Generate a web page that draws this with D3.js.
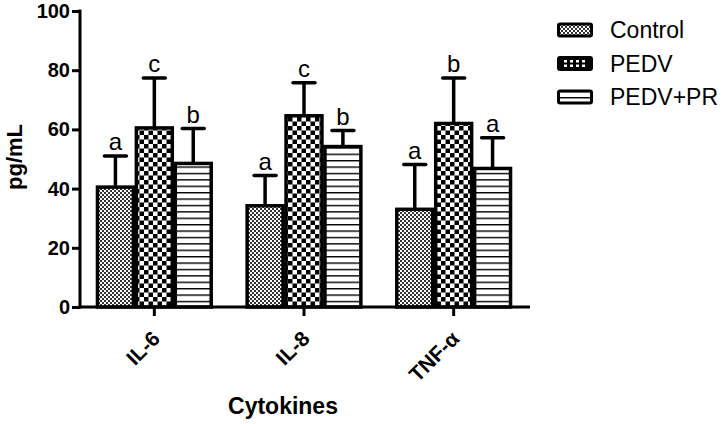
<!DOCTYPE html>
<html>
<head>
<meta charset="utf-8">
<script src="https://cdn.jsdelivr.net/npm/d3@7"></script>
<style>
  body { margin: 0; background: #fff; }
  text { font-family: "Liberation Sans", Arial, sans-serif; }
</style>
</head>
<body>
<div id="main"></div>
<script>
var cytokines = ["IL-6", "IL-8", "TNF-α"];
var groups = ["Control", "PEDV", "PEDV+PR"];
var means = [
  [40.5, 60.5, 48.5],
  [34.2, 64.6, 54.2],
  [33.0, 62.0, 46.8]
];
var errTops = [
  [51.0, 77.4, 60.3],
  [44.4, 75.8, 59.6],
  [48.1, 77.4, 57.2]
];
var letters = [
  ["a", "c", "b"],
  ["a", "c", "b"],
  ["a", "b", "a"]
];
var yTicks = [0, 20, 40, 60, 80, 100];

var ctx = { w: 728, h: 424 };

var svg = d3.select("#main").append("svg")
  .attr("width", ctx.w).attr("height", ctx.h);

var defs = svg.append("defs");
// fine checker (Control)
var p1 = defs.append("pattern").attr("id", "pCtrl")
  .attr("patternUnits", "userSpaceOnUse").attr("width", 4).attr("height", 4);
p1.append("rect").attr("width", 4).attr("height", 4).attr("fill", "#fff");
p1.append("rect").attr("width", 2).attr("height", 2).attr("fill", "#333");
p1.append("rect").attr("x", 2).attr("y", 2).attr("width", 2).attr("height", 2).attr("fill", "#333");
// large checker (PEDV)
var p2 = defs.append("pattern").attr("id", "pPedv")
  .attr("patternUnits", "userSpaceOnUse").attr("width", 9).attr("height", 9);
p2.append("rect").attr("width", 9).attr("height", 9).attr("fill", "#fff");
p2.append("rect").attr("width", 4.5).attr("height", 4.5).attr("fill", "#000");
p2.append("rect").attr("x", 4.5).attr("y", 4.5).attr("width", 4.5).attr("height", 4.5).attr("fill", "#000");
// horizontal lines (PEDV+PR)
var p3 = defs.append("pattern").attr("id", "pPr")
  .attr("patternUnits", "userSpaceOnUse").attr("width", 6).attr("height", 6.4);
p3.append("rect").attr("width", 6).attr("height", 6.4).attr("fill", "#fff");
p3.append("rect").attr("y", 0).attr("width", 6).attr("height", 1.4).attr("fill", "#000");
var fills = ["url(#pCtrl)", "url(#pPedv)", "url(#pPr)"];

var y = d3.scaleLinear().domain([0, 100]).range([307, 11]);
var x0 = d3.scaleBand().domain(cytokines).range([81, 527]).paddingInner(0.22).paddingOuter(0.1);
var x1 = d3.scaleBand().domain(groups).range([0, x0.bandwidth()]);

var g = svg.append("g");

// bars, error bars, letters
cytokines.forEach(function(c, i) {
  groups.forEach(function(s, j) {
    var bx = x0(c) + x1(s);
    var bw = x1.bandwidth();
    var cx = bx + bw / 2;
    g.append("line")
      .attr("x1", cx).attr("x2", cx)
      .attr("y1", y(means[i][j])).attr("y2", y(errTops[i][j]))
      .attr("stroke", "#000").attr("stroke-width", 3.5);
    g.append("line")
      .attr("x1", cx - 11).attr("x2", cx + 11)
      .attr("y1", y(errTops[i][j])).attr("y2", y(errTops[i][j]))
      .attr("stroke", "#000").attr("stroke-width", 3.5).attr("stroke-linecap", "round");
    g.append("rect")
      .attr("x", bx + 1.5).attr("y", y(means[i][j]))
      .attr("width", bw - 3).attr("height", y(0) - y(means[i][j]))
      .attr("fill", fills[j]).attr("stroke", "#000").attr("stroke-width", 3.5);
    g.append("text")
      .attr("x", cx).attr("y", y(errTops[i][j]) - 6)
      .attr("text-anchor", "middle")
      .attr("font-size", 24)
      .text(letters[i][j]);
  });
});

// y axis
var yAxis = svg.append("g").attr("transform", "translate(80,0)")
  .call(d3.axisLeft(y).tickValues(yTicks).tickSize(8).tickPadding(2));
yAxis.select(".domain").attr("stroke-width", 3).attr("d", "M0,9.5V308.5");
yAxis.selectAll(".tick line").attr("stroke-width", 3);
yAxis.selectAll("text").attr("font-size", 20).attr("font-weight", "bold").attr("fill", "#000");

// x axis
var xAxis = svg.append("g").attr("transform", "translate(0,307)")
  .call(d3.axisBottom(x0).tickSize(9).tickSizeOuter(0));
xAxis.select(".domain").attr("stroke-width", 3).attr("d", "M78.5,0H530");
xAxis.selectAll(".tick line").attr("stroke-width", 3);
xAxis.selectAll(".tick text")
  .attr("font-size", 21).attr("font-weight", "bold").attr("fill", "#000")
  .attr("text-anchor", "end").attr("dy", null).attr("y", 0)
  .attr("transform", "translate(7,33) rotate(-45)");

// axis titles
svg.append("text")
  .attr("transform", "translate(22,157) rotate(-90)")
  .attr("text-anchor", "middle")
  .attr("font-size", 22).attr("font-weight", "bold")
  .text("pg/mL");
svg.append("text")
  .attr("x", 283).attr("y", 414)
  .attr("text-anchor", "middle")
  .attr("font-size", 23).attr("font-weight", "bold")
  .text("Cytokines");

// legend
groups.forEach(function(s, j) {
  var ly = 30 + j * 33.5;
  var lg = svg.append("g").attr("transform", "translate(557," + ly + ")");
  lg.append("rect").attr("x", 1.5).attr("y", -6).attr("width", 33).attr("height", 12)
    .attr("fill", j === 1 ? "#000" : fills[j]).attr("stroke", "#000").attr("stroke-width", 3).attr("rx", 1.5);
  if (j === 1) {
    [0, 1, 2, 3].forEach(function(k) {
      lg.append("rect").attr("x", 7 + k * 6).attr("y", -3.5).attr("width", 3).attr("height", 2.5).attr("fill", "#fff");
      lg.append("rect").attr("x", 7 + k * 6).attr("y", 1).attr("width", 3).attr("height", 2.5).attr("fill", "#fff");
    });
  }
  lg.append("text").attr("x", 53).attr("y", 0).attr("dy", "0.35em")
    .attr("font-size", 23).text(s);
});
</script>
</body>
</html>
